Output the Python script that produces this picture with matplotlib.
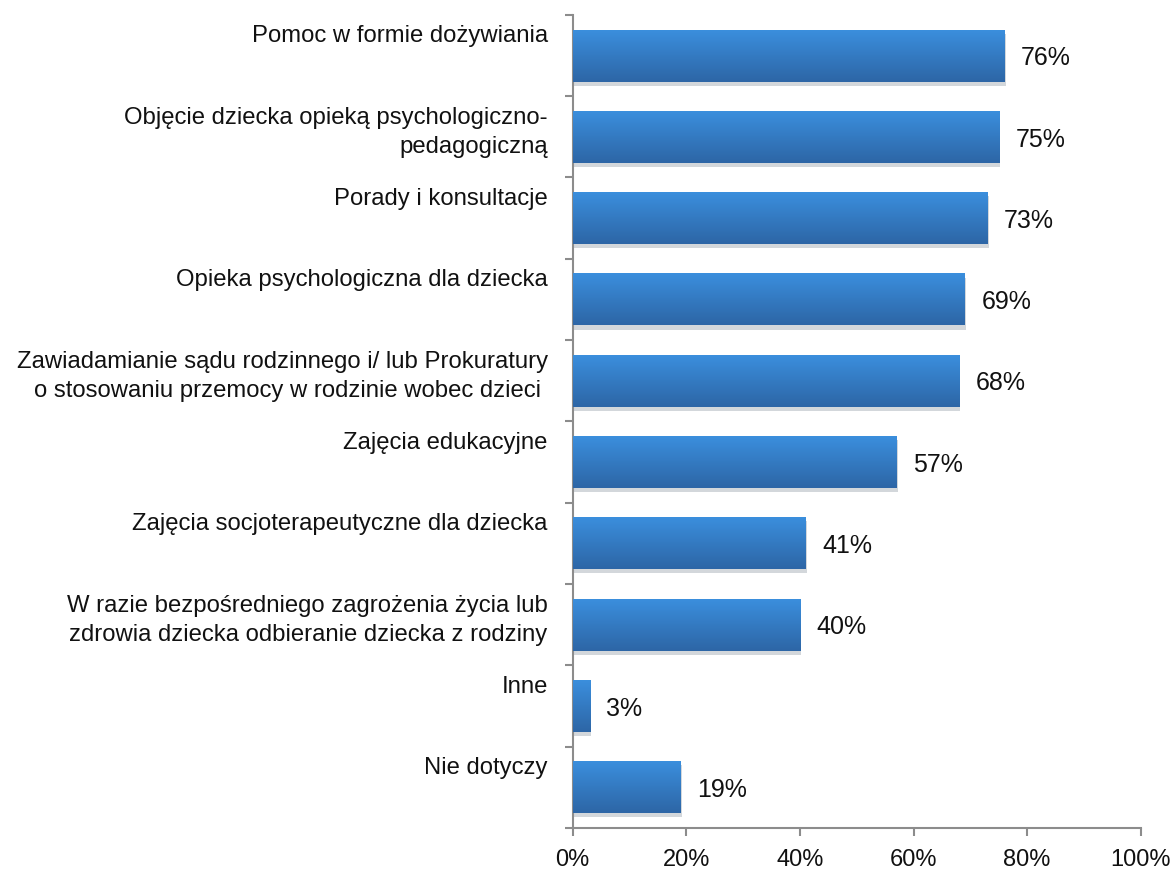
import matplotlib
matplotlib.use("Agg")
import matplotlib.pyplot as plt
import matplotlib.patheffects as pe
import numpy as np
from matplotlib.colors import LinearSegmentedColormap
from matplotlib.ticker import FuncFormatter, MultipleLocator

# ---------------------------------------------------------------------------
# Data
# ---------------------------------------------------------------------------
categories = [
    "Pomoc w formie dożywiania",
    "Objęcie dziecka opieką psychologiczno-\npedagogiczną",
    "Porady i konsultacje",
    "Opieka psychologiczna dla dziecka",
    "Zawiadamianie sądu rodzinnego i/ lub Prokuratury\no stosowaniu przemocy w rodzinie wobec dzieci ",
    "Zajęcia edukacyjne",
    "Zajęcia socjoterapeutyczne dla dziecka",
    "W razie bezpośredniego zagrożenia życia lub\nzdrowia dziecka odbieranie dziecka z rodziny",
    "Inne",
    "Nie dotyczy",
]
values = [76, 75, 73, 69, 68, 57, 41, 40, 3, 19]
value_labels = ["76%", "75%", "73%", "69%", "68%", "57%", "41%", "40%", "3%", "19%"]

plt.rcParams["font.family"] = ["Liberation Sans", "DejaVu Sans"]

fig = plt.figure(figsize=(11.76, 8.76), dpi=100)
ax = fig.add_axes([0.487, 0.055, 0.483, 0.928])

pos = np.arange(len(categories))
bar_h = 0.64
# light at the top of each bar, darker at the bottom
grad = LinearSegmentedColormap.from_list("bar", ["#3b8fde", "#2d66a6"])
shade = np.linspace(0, 1, 64).reshape(-1, 1)

bars = ax.barh(pos, values, height=bar_h, color="#3479c4", zorder=2,
               path_effects=[pe.SimplePatchShadow(offset=(1, -3), alpha=0.18), pe.Normal()])
for b in bars:
    x0, y0 = b.get_x(), b.get_y()
    im = ax.imshow(shade, cmap=grad, aspect="auto", zorder=3, origin="upper",
                   extent=(x0, x0 + b.get_width(), y0 + b.get_height(), y0))
    im.set_clip_path(b)

for i, (v, lab) in enumerate(zip(values, value_labels)):
    ax.annotate(lab, xy=(v, i), xytext=(12, -2), textcoords="offset points",
                ha="left", va="center", fontsize=18, color="#111111")

for i, cat in enumerate(categories):
    ax.annotate(cat, xy=(0, i - 0.37), xycoords=("axes fraction", "data"),
                xytext=(-18, 0), textcoords="offset points",
                ha="right", va="top", fontsize=17.2, color="#111111",
                multialignment="right", linespacing=1.45)

ax.set_xlim(0, 100)
ax.set_ylim(len(categories) - 0.5, -0.5)
ax.xaxis.set_major_locator(MultipleLocator(20))
ax.xaxis.set_major_formatter(FuncFormatter(lambda v, _: f"{v:.0f}%"))
ax.set_yticks(np.arange(len(categories) + 1) - 0.5)
ax.set_yticklabels([])

for side in ("top", "right"):
    ax.spines[side].set_visible(False)
for side in ("left", "bottom"):
    ax.spines[side].set_color("#8c8c8c")
    ax.spines[side].set_linewidth(1.5)
ax.tick_params(axis="both", direction="out", length=6, width=1.5, color="#8c8c8c")
ax.tick_params(axis="x", labelsize=17, labelcolor="#111111", pad=9)

fig.savefig("out.png", dpi=100)
